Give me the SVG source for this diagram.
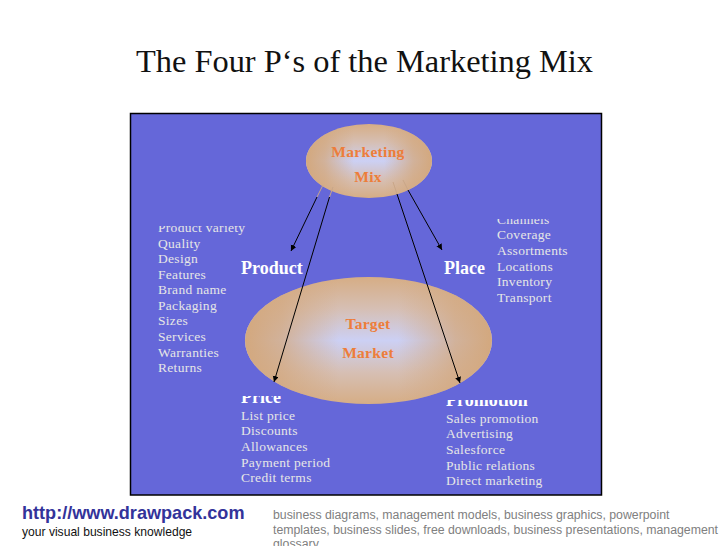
<svg xmlns="http://www.w3.org/2000/svg" width="728" height="546" viewBox="0 0 728 546">
<style>
text{font-family:"Liberation Serif","Times New Roman",serif}
.l{font-size:13.500px;fill:#e6e6e6;letter-spacing:.3px}
.h{font-size:18px;font-weight:bold;fill:#fff}
.o{font-size:15.500px;font-weight:bold;fill:#ed7d3a;text-anchor:middle;letter-spacing:.3px}
.s{font-family:"Liberation Sans",Arial,sans-serif;font-size:12.300px;fill:#808080}
.c{fill:none;stroke:#000;stroke-width:1;marker-end:url(#a)}
.f{fill:none;stroke:#c9a688;stroke-width:1}
.b{font-family:"Liberation Sans",Arial,sans-serif}
</style>
<defs>
<linearGradient id="v" x1="0" y1="0" x2="0" y2="1"><stop offset="0" stop-color="#d6ad85"/><stop offset=".25" stop-color="#d6bfb4"/><stop offset=".5" stop-color="#ccd0f4"/><stop offset=".75" stop-color="#d6bfb4"/><stop offset="1" stop-color="#d6ad85"/></linearGradient>
<linearGradient id="h" x1="0" y1="0" x2="1" y2="0"><stop offset="0" stop-color="#d3a87e"/><stop offset=".15" stop-color="#d3a87e" stop-opacity=".75"/><stop offset=".38" stop-color="#d3a87e" stop-opacity="0"/><stop offset=".62" stop-color="#d3a87e" stop-opacity="0"/><stop offset=".85" stop-color="#d3a87e" stop-opacity=".75"/><stop offset="1" stop-color="#d3a87e"/></linearGradient>
<marker id="a" markerWidth="7" markerHeight="7" refX="6" refY="3" orient="auto"><path d="M0 0L6 3L0 6z" fill="#000"/></marker>
<clipPath id="c1"><rect x="150" y="226" width="110" height="154"/></clipPath>
<clipPath id="c2"><rect x="490" y="219" width="100" height="100"/></clipPath>
<clipPath id="c3"><rect x="235" y="396" width="110" height="95"/></clipPath>
<clipPath id="c4"><rect x="440" y="400" width="120" height="95"/></clipPath>
</defs>
<rect width="728" height="546" fill="#fff"/>
<text id="title" x="364.500" y="72" font-size="32.400" text-anchor="middle" fill="#111">The Four P‘s of the Marketing Mix</text>
<rect id="panel" x="130.500" y="113.500" width="471" height="381.500" fill="#6567d9" stroke="#000" stroke-width="1.500"/>
<g id="marketing-mix"><ellipse cx="369" cy="161" rx="63" ry="37" fill="url(#v)"/><ellipse cx="369" cy="161" rx="63" ry="37" fill="url(#h)"/><text class="o" x="368" y="157">Marketing</text><text class="o" x="368" y="182">Mix</text></g>
<g id="target-market"><ellipse cx="368.500" cy="340.500" rx="123.500" ry="63.500" fill="url(#v)"/><ellipse cx="368.500" cy="340.500" rx="123.500" ry="63.500" fill="url(#h)"/><text class="o" x="368" y="329">Target</text><text class="o" x="368" y="358">Market</text></g>
<g id="product"><text class="h" x="241" y="274">Product</text><g clip-path="url(#c1)"><text class="l" x="158" y="232">Product variety</text><text class="l" x="158" y="248">Quality</text><text class="l" x="158" y="263">Design</text><text class="l" x="158" y="279">Features</text><text class="l" x="158" y="294">Brand name</text><text class="l" x="158" y="310">Packaging</text><text class="l" x="158" y="325">Sizes</text><text class="l" x="158" y="341">Services</text><text class="l" x="158" y="357">Warranties</text><text class="l" x="158" y="372">Returns</text></g></g>
<g id="place"><text class="h" x="444" y="274">Place</text><g clip-path="url(#c2)"><text class="l" x="497" y="224">Channels</text><text class="l" x="497" y="239">Coverage</text><text class="l" x="497" y="255">Assortments</text><text class="l" x="497" y="271">Locations</text><text class="l" x="497" y="286">Inventory</text><text class="l" x="497" y="302">Transport</text></g></g>
<g id="price"><g clip-path="url(#c3)"><text class="h" x="241" y="402.500">Price</text><text class="l" x="241" y="420">List price</text><text class="l" x="241" y="435">Discounts</text><text class="l" x="241" y="451">Allowances</text><text class="l" x="241" y="467">Payment period</text><text class="l" x="241" y="482">Credit terms</text></g></g>
<g id="promotion"><g clip-path="url(#c4)"><text class="h" x="446" y="406">Promotion</text><text class="l" x="446" y="423">Sales promotion</text><text class="l" x="446" y="438">Advertising</text><text class="l" x="446" y="454">Salesforce</text><text class="l" x="446" y="470">Public relations</text><text class="l" x="446" y="485">Direct marketing</text></g></g>
<g id="connectors">
<path class="f" d="M323 185L317 197M333 187L329.500 197M393 182L397 194M403 180L408 190"/>
<path class="c" d="M317 197L291 251"/>
<path class="c" d="M329.500 197L274 382"/>
<path class="c" d="M397 194L460 383"/>
<path class="c" d="M408 190L442 250"/>
</g>
<g id="footer">
<text class="b" x="22" y="519" font-size="18.100" font-weight="bold" fill="#33339a">http://www.drawpack.com</text>
<text class="b" x="22" y="536" font-size="12.100" fill="#111">your visual business knowledge</text>
<text class="s" x="273" y="519">business diagrams, management models, business graphics, powerpoint</text>
<text class="s" x="273" y="534">templates, business slides, free downloads, business presentations, management</text>
<text class="s" x="273" y="548">glossary</text>
</g>
</svg>
